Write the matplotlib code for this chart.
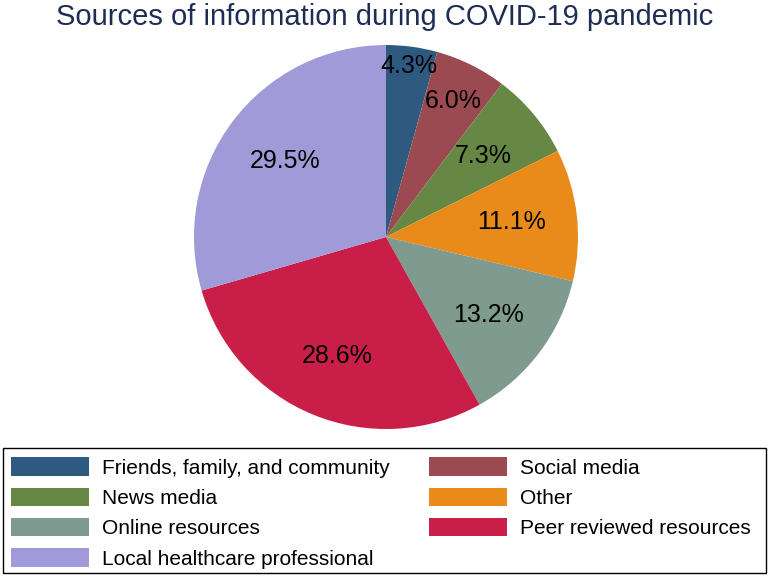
import numpy as np
import matplotlib.pyplot as plt
from matplotlib.patches import Rectangle

plt.rcParams["font.family"] = ["Liberation Sans", "DejaVu Sans"]

sources = [
    "Friends, family, and community",
    "Social media",
    "News media",
    "Other",
    "Online resources",
    "Peer reviewed resources",
    "Local healthcare professional",
]
shares = [4.3, 6.0, 7.3, 11.1, 13.2, 28.6, 29.5]
colors = ["#2f5a80", "#9b4a51", "#668844", "#e88b1a", "#7f9a8e", "#c81e48", "#a09ad8"]
# how far out each percentage label sits (fraction of radius)
label_dist = [0.90, 0.79, 0.66, 0.66, 0.67, 0.67, 0.66]


def main():
    fig = plt.figure(figsize=(7.7, 5.76), dpi=100)
    w, h = 0.4987, 0.6667
    ax = fig.add_axes([386 / 770 - w / 2, 1 - 237 / 576 - h / 2, w, h])

    wedges, texts, autotexts = ax.pie(
        shares,
        colors=colors,
        startangle=90,
        counterclock=False,
        autopct="%.1f%%",
        wedgeprops={"linewidth": 0},
        textprops={"fontsize": 18, "color": "black"},
    )
    ax.set_xlim(-1, 1)
    ax.set_ylim(-1, 1)
    ax.set_aspect("equal")

    for wdg, txt, d in zip(wedges, autotexts, label_dist):
        ang = np.deg2rad((wdg.theta1 + wdg.theta2) / 2)
        txt.set_position((d * np.cos(ang), d * np.sin(ang)))

    fig.suptitle(
        "Sources of information during COVID-19 pandemic",
        fontsize=21, color="#1e2d53", y=0.995, va="top",
    )

    # row-major order in the legend -> reorder for column-major filling
    order = [0, 2, 4, 6, 1, 3, 5]
    fig.legend(
        [wedges[i] for i in order],
        [sources[i] for i in order],
        ncol=2,
        loc="upper left",
        bbox_to_anchor=(3 / 770, 1 - 449 / 576),
        fontsize=15,
        handlelength=3.75,
        handleheight=1.0,
        labelspacing=0.47,
        handletextpad=0.6,
        columnspacing=1.9,
        borderaxespad=0,
        borderpad=0.4,
        frameon=False,
    )
    # legend box spans the full width
    fig.patches.append(Rectangle(
        (3 / 770, 1 - 573 / 576), 763 / 770, 125 / 576,
        transform=fig.transFigure, fill=False, edgecolor="black", linewidth=1,
    ))

    fig.savefig("out.png", dpi=100)


if __name__ == "__main__":
    main()
